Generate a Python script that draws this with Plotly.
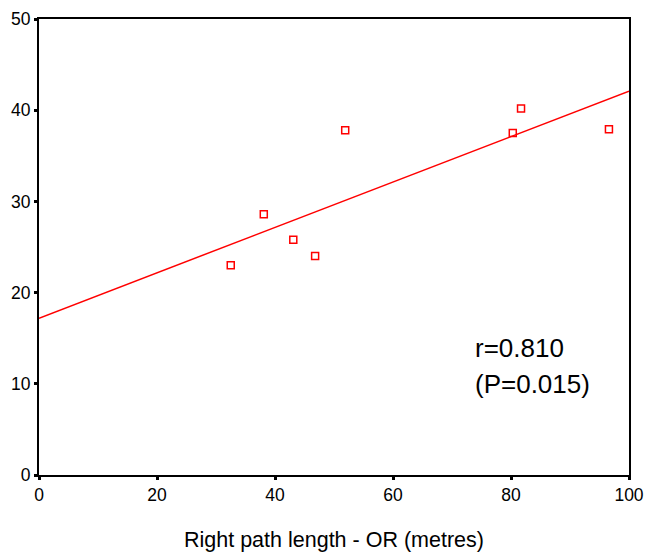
import numpy as np
import plotly.graph_objects as go

path_length = [32.5, 38.1, 43.1, 46.8, 51.9, 80.3, 81.7, 96.6]
y_values = [23.0, 28.6, 25.8, 24.0, 37.8, 37.5, 40.2, 37.9]
x_ticks = [0, 20, 40, 60, 80, 100]
y_ticks = [0, 10, 20, 30, 40, 50]

slope, intercept = np.polyfit(path_length, y_values, 1)
line_x = [0, 100]
line_y = [intercept + slope * v for v in line_x]

FONT = "Liberation Sans, Arial, Helvetica"

fig = go.Figure()
fig.add_trace(go.Scatter(x=line_x, y=line_y, mode="lines",
                         line=dict(color="#ff0000", width=1.5), showlegend=False))
fig.add_trace(go.Scatter(x=path_length, y=y_values, mode="markers",
                         marker=dict(symbol="square-open", size=7, color="#ff0000",
                                     line=dict(width=1.5, color="#ff0000")),
                         showlegend=False))

fig.add_annotation(x=0.735, y=0.2785, xref="paper", yref="paper", xanchor="left", yanchor="middle",
                   text="r=0.810", showarrow=False,
                   font=dict(size=26, color="black", family=FONT))
fig.add_annotation(x=0.735, y=0.1996, xref="paper", yref="paper", xanchor="left", yanchor="middle",
                   text="(P=0.015)", showarrow=False,
                   font=dict(size=26, color="black", family=FONT))
fig.add_annotation(x=0.5, y=-0.142, xref="paper", yref="paper", xanchor="center", yanchor="middle",
                   text="Right path length - OR (metres)", showarrow=False,
                   font=dict(size=21.5, color="black", family=FONT))

fig.update_layout(
    width=646, height=553,
    margin=dict(l=39, r=17, t=19, b=78),
    paper_bgcolor="white", plot_bgcolor="white",
    font=dict(family=FONT, color="black", size=17.5),
    xaxis=dict(range=[0, 100], tickvals=x_ticks, ticks="outside", ticklen=3, tickwidth=3,
               tickcolor="black", showline=True, linecolor="black", linewidth=2, mirror=True,
               showgrid=False, zeroline=False, automargin=False),
    yaxis=dict(range=[0, 50], tickvals=y_ticks, ticks="outside", ticklen=3, tickwidth=3,
               tickcolor="black", showline=True, linecolor="black", linewidth=2, mirror=True,
               showgrid=False, zeroline=False, automargin=False),
)
fig.write_html("out.html")
